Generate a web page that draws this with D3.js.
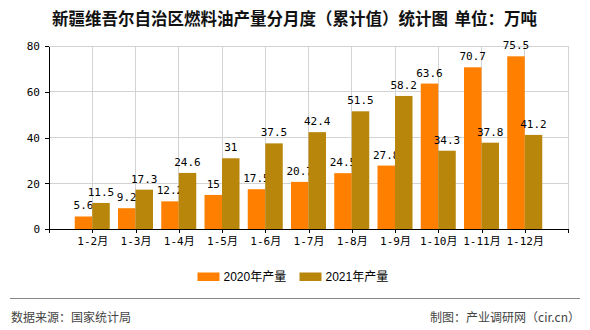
<!DOCTYPE html>
<html>
<head>
<meta charset="utf-8">
<script src="https://cdn.jsdelivr.net/npm/d3@7"></script>
<style>
  html, body { margin: 0; padding: 0; background: #fff; }
  svg { display: block; }
</style>
</head>
<body>
<svg id="chart" width="590" height="330"></svg>
<script>
const title = "新疆维吾尔自治区燃料油产量分月度（累计值）统计图 单位：万吨";
const categories = ["1-2月","1-3月","1-4月","1-5月","1-6月","1-7月","1-8月","1-9月","1-10月","1-11月","1-12月"];
const seriesNames = ["2020年产量", "2021年产量"];
const values2020 = [5.6, 9.2, 12.2, 15, 17.5, 20.7, 24.5, 27.8, 63.6, 70.7, 75.5];
const values2021 = [11.5, 17.3, 24.6, 31, 37.5, 42.4, 51.5, 58.2, 34.3, 37.8, 41.2];
const yTicks = [0, 20, 40, 60, 80];
const colors = ["#FF8000", "#B8860B"];
const sourceText = "数据来源：国家统计局";
const makerText = "制图：产业调研网（cir.cn）";

(function () {
const svg = d3.select("#chart");
const pL = 49, pR = 568, pT = 46, pB = 229.3;
const x = d3.scalePoint().domain(categories).range([pL, pR]).padding(1);
const y = d3.scaleLinear().domain([0, 80]).range([pB, pT]);
const monoFont = "'DejaVu Sans Mono', 'Noto Sans CJK SC', monospace";

// title
svg.append("text")
  .attr("x", 294.5).attr("y", 17.5)
  .attr("text-anchor", "middle").attr("dominant-baseline", "central")
  .style("font-family", "'Noto Sans CJK SC', sans-serif")
  .style("font-size", "16.5px").style("font-weight", "bold")
  .style("word-spacing", "3px")
  .attr("fill", "#111").text(title);

// grid
const grid = svg.append("g").attr("stroke", "#d3d3d3").attr("stroke-width", 1).attr("shape-rendering", "crispEdges");
grid.selectAll("line.h").data(yTicks.filter(d => d > 0)).join("line")
  .attr("x1", pL).attr("x2", pR).attr("y1", d => y(d)).attr("y2", d => y(d));
grid.selectAll("line.v").data(categories).join("line")
  .attr("x1", d => x(d)).attr("x2", d => x(d)).attr("y1", pT).attr("y2", pB);
grid.append("line").attr("x1", pR).attr("x2", pR).attr("y1", pT).attr("y2", pB);

// bars
const bw = 17.5;
const rows = categories.map((c, i) => ({ c, v: [values2020[i], values2021[i]] }));
seriesNames.forEach((s, si) => {
  const g = svg.append("g");
  g.selectAll("rect").data(rows).join("rect")
    .attr("x", d => x(d.c) + (si === 0 ? -bw : 0))
    .attr("width", bw)
    .attr("y", d => y(d.v[si]))
    .attr("height", d => y(0) - y(d.v[si]))
    .attr("fill", colors[si]);
  g.selectAll("text").data(rows).join("text")
    .attr("x", d => x(d.c) + (si === 0 ? -bw / 2 : bw / 2))
    .attr("y", d => y(d.v[si]) - 7)
    .attr("text-anchor", "middle")
    .style("font-family", monoFont).style("font-size", "11px")
    .attr("fill", "#000")
    .text(d => d.v[si]);
});

// axes
const yAxis = svg.append("g").attr("transform", `translate(${pL},0)`)
  .call(d3.axisLeft(y).tickValues(yTicks).tickSize(4).tickSizeOuter(0).tickPadding(5));
const xAxis = svg.append("g").attr("transform", `translate(0,${pB})`)
  .call(d3.axisBottom(x).tickSize(4).tickSizeOuter(4).tickPadding(4));
[yAxis, xAxis].forEach(a => {
  a.selectAll("path,line").attr("stroke", "#000").attr("shape-rendering", "crispEdges");
  a.selectAll("text").style("font-family", monoFont).style("font-size", "11px").attr("fill", "#000");
});

// legend
const legend = svg.append("g");
const legX = [197.5, 299.5];
seriesNames.forEach((s, i) => {
  legend.append("rect").attr("x", legX[i]).attr("y", 272.5).attr("width", 22).attr("height", 8.5).attr("fill", colors[i]);
  legend.append("text").attr("x", legX[i] + 26).attr("y", 277)
    .attr("dominant-baseline", "central")
    .style("font-family", "'Liberation Sans', 'Noto Sans CJK SC', sans-serif")
    .style("font-size", "12px").attr("fill", "#000").text(s);
});

// footer
svg.append("line").attr("x1", 10).attr("x2", 580).attr("y1", 298.5).attr("y2", 298.5)
  .attr("stroke", "#888").attr("stroke-width", 1.2);
svg.append("text").attr("x", 11).attr("y", 316.5).attr("dominant-baseline", "central")
  .style("font-family", "'Noto Sans CJK SC', sans-serif").style("font-size", "12px")
  .attr("fill", "#444").text(sourceText);
svg.append("text").attr("x", 580).attr("y", 316.5).attr("dominant-baseline", "central")
  .attr("text-anchor", "end")
  .style("font-family", "'Noto Sans CJK SC', sans-serif").style("font-size", "12px")
  .attr("fill", "#444").text(makerText);
})();
</script>
</body>
</html>
